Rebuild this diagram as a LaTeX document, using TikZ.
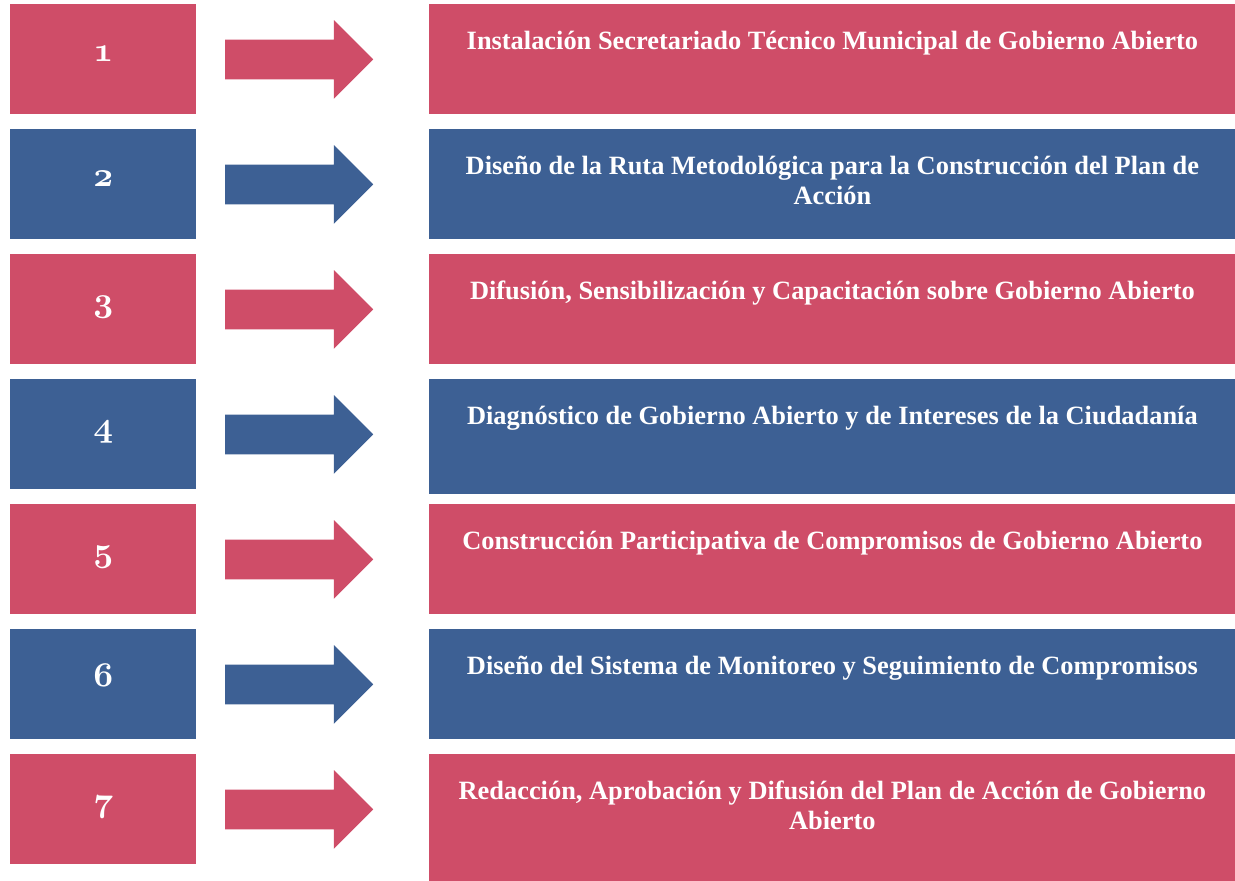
\documentclass[tikz,border=0pt]{standalone}
\usepackage{fontspec}
\setmainfont{Liberation Serif}
\usetikzlibrary{shapes.arrows}
\definecolor{rosa}{RGB}{207,77,104}
\definecolor{azul}{RGB}{61,96,148}
\begin{document}
\begin{tikzpicture}[x=0.5pt,y=-0.5pt]
  \tikzstyle{nummer}=[draw=none,inner sep=0pt,minimum width=93pt,minimum height=55pt,
    text=white,text height=2pt,text depth=0pt,
    font=\fontsize{19}{22}\selectfont\usefont{OML}{cmm}{b}{it}]
  \tikzstyle{kasten}=[draw=none,inner sep=0pt,minimum width=403pt]
  \tikzstyle{pfeil}=[single arrow,draw=none,inner xsep=0pt,inner ysep=9.75pt,
    text height=0pt,text depth=0pt,minimum height=74pt,
    single arrow head extend=9.75pt,single arrow tip angle=90]
  \tikzstyle{schrift}=[text=white,align=center,anchor=base,
    font=\bfseries\fontsize{13.2}{15}\selectfont]

  \useasboundingbox (0,0) rectangle (1235,880);

  % Nummern, Pfeile und Kaesten
  \foreach \i/\farbe/\hoehe in {1/rosa/110,2/azul/110,3/rosa/110,4/azul/115,
                                5/rosa/110,6/azul/110,7/rosa/127} {
    \pgfmathsetmacro{\oben}{4+125*(\i-1)}
    \node[nummer,fill=\farbe,anchor=north west] (n\i) at (10,\oben) {\i};
    \node[kasten,fill=\farbe,minimum height=\hoehe*0.5pt,anchor=north west] (k\i) at (429,\oben) {};
    \node[pfeil,fill=\farbe,anchor=tail] (p\i) at ([xshift=14pt]n\i.east) {};
  }

  % Texte (bei zwei Zeilen liegt base auf der letzten Zeile)
  \node[schrift] (t1) at ([yshift=-22.5pt]k1.north)
    {Instalación Secretariado Técnico Municipal de Gobierno Abierto};
  \node[schrift] (t2) at ([yshift=-37.5pt]k2.north)
    {Diseño de la Ruta Metodológica para la Construcción del Plan de\\Acción};
  \node[schrift] (t3) at ([yshift=-22.5pt]k3.north)
    {Difusión, Sensibilización y Capacitación sobre Gobierno Abierto};
  \node[schrift] (t4) at ([yshift=-22.5pt]k4.north)
    {Diagnóstico de Gobierno Abierto y de Intereses de la Ciudadanía};
  \node[schrift] (t5) at ([yshift=-22.5pt]k5.north)
    {Construcción Participativa de Compromisos de Gobierno Abierto};
  \node[schrift] (t6) at ([yshift=-22.5pt]k6.north)
    {Diseño del Sistema de Monitoreo y Seguimiento de Compromisos};
  \node[schrift] (t7) at ([yshift=-37.5pt]k7.north)
    {Redacción, Aprobación y Difusión del Plan de Acción de Gobierno\\Abierto};

\end{tikzpicture}
\end{document}
